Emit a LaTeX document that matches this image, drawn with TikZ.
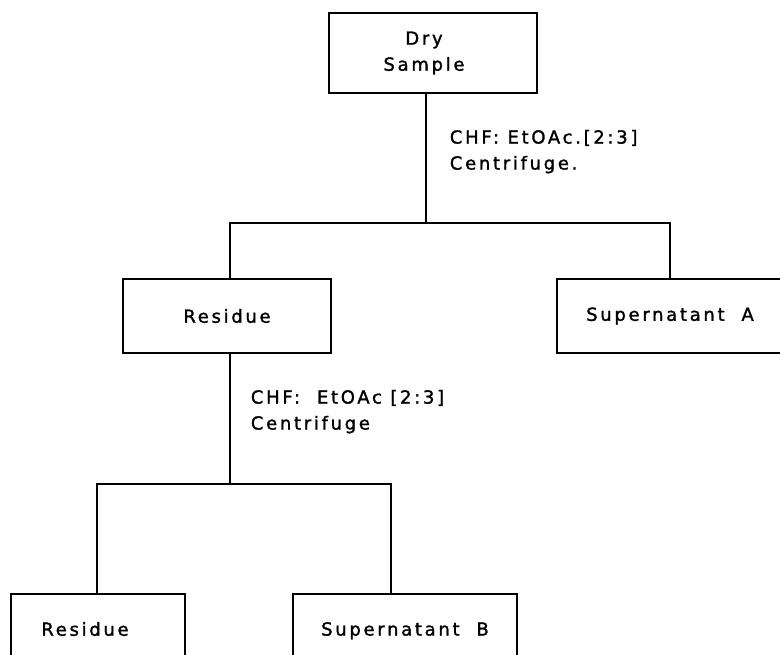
\documentclass[tikz,border=0pt]{standalone}
\usepackage{fontspec}
\setmainfont{DejaVu Sans}[LetterSpace=15,FakeBold=1.5]
\usetikzlibrary{positioning}

\begin{document}
\begin{tikzpicture}[x=1pt,y=-1pt,line width=1.8pt,
    font=\fontsize{18}{26}\selectfont,
    box/.style={draw,align=center,minimum height=74pt},
    note/.style={align=left,inner sep=0pt,anchor=north west}]
    \useasboundingbox (0,0) rectangle (780,655);
    \clip (0,0) rectangle (780,655);
    % boxes
    \node[box,minimum width=208pt,minimum height=80pt] (dry) at (433,53) {Dry\hspace*{18pt}\\Sample\hspace*{18pt}};
    \node[box,minimum width=208pt] (res1) at (227,316) {Residue};
    \node[box,minimum width=226pt] (supA) at (670,316) {Supernatant\ \ A};
    \node[box,minimum width=174pt,minimum height=118pt,anchor=north] (res2) at (98,593) {Residue\hspace*{26pt}\\[22pt]};
    \node[box,minimum width=224pt,minimum height=118pt,anchor=north] (supB) at (405,593) {Supernatant\ \ B\\[22pt]};
    % solvent steps
    \node[note] (step1) at (449,129) {CHF: EtOAc.[2:3]\\Centrifuge.};
    \node[note] (step2) at (250,389) {CHF:\ \ EtOAc [2:3]\\Centrifuge};
    % connectors
    \draw ([xshift=3pt]res1.north) -- ++(0,-55) coordinate (fork1) -| (supA.north);
    \draw ([xshift=-7pt]dry.south) -- ([xshift=-7pt]dry.south |- fork1);
    \draw ([xshift=3pt]res1.south) -- ++(0,130) coordinate (fork2);
    \draw ([xshift=-1pt]res2.north) |- (fork2) -| ([xshift=-14pt]supB.north);
\end{tikzpicture}
\end{document}
